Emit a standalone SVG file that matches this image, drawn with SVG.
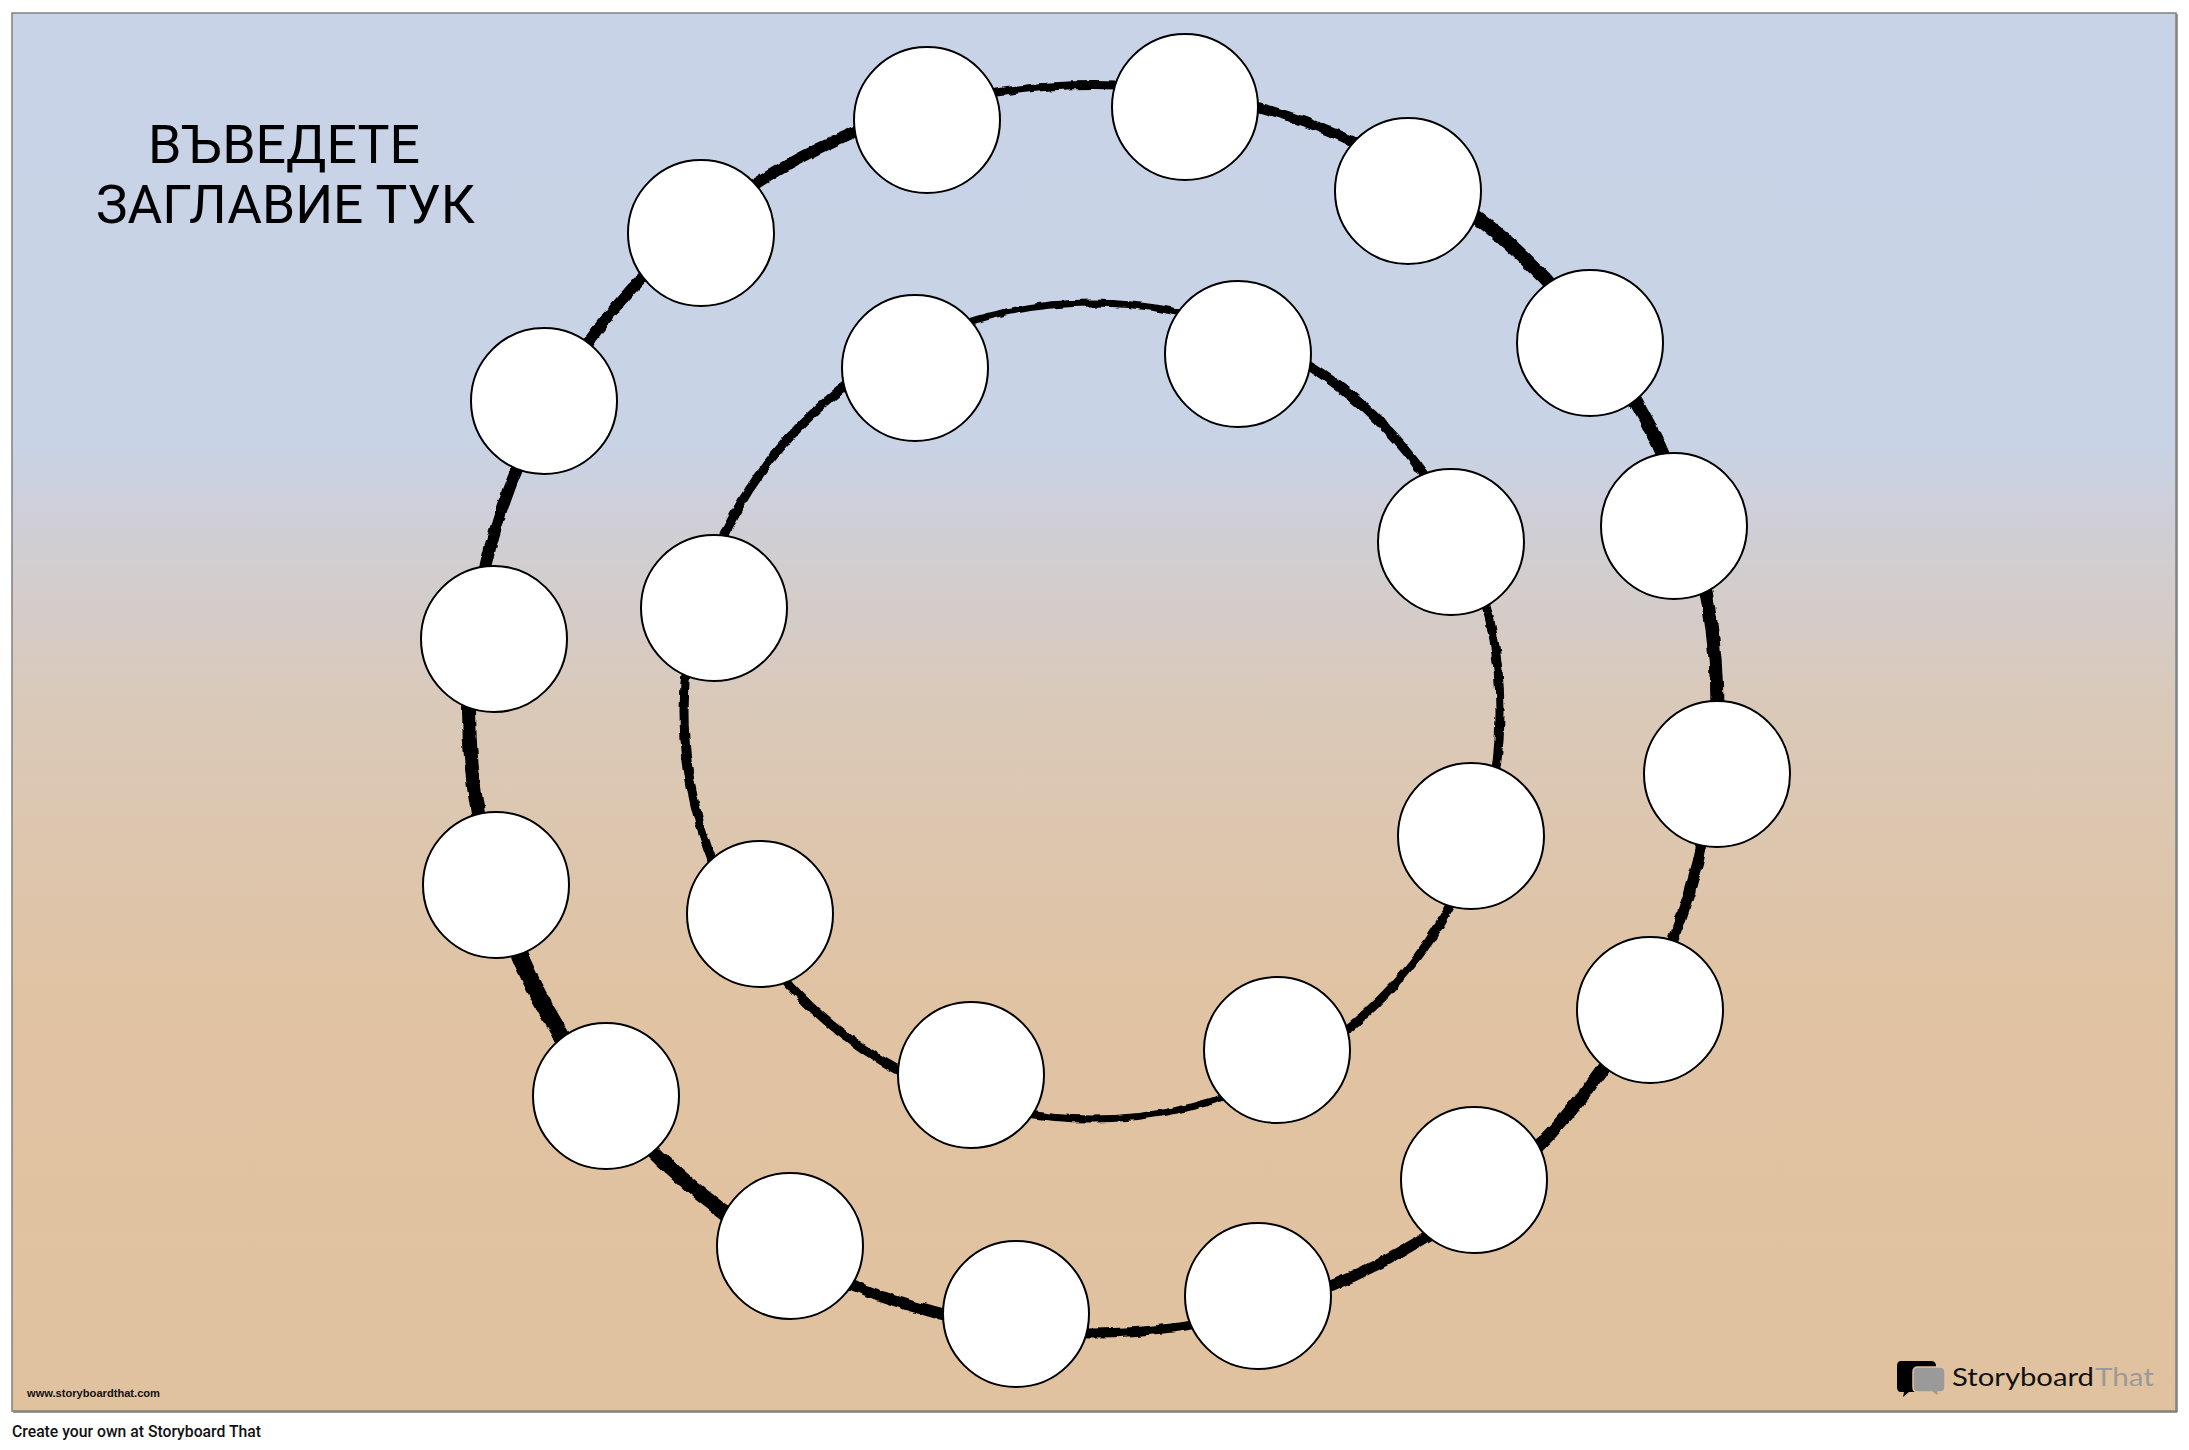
<svg xmlns="http://www.w3.org/2000/svg" width="2189" height="1450" viewBox="0 0 2189 1450">
  <defs>
    <linearGradient id="bg" gradientUnits="userSpaceOnUse" x1="0" y1="13" x2="0" y2="1411">
      <stop offset="0" stop-color="#C8D3E7"/>
      <stop offset="0.305" stop-color="#C8D3E6"/>
      <stop offset="0.36" stop-color="#CFCFD8"/>
      <stop offset="0.5" stop-color="#DAC9B8"/>
      <stop offset="0.7" stop-color="#E0C3A3"/>
      <stop offset="1" stop-color="#E1C29F"/>
    </linearGradient>
    <filter id="rough" x="-5%" y="-5%" width="110%" height="110%">
      <feTurbulence type="fractalNoise" baseFrequency="0.09" numOctaves="2" seed="4"/>
      <feDisplacementMap in="SourceGraphic" scale="5" xChannelSelector="R" yChannelSelector="G"/>
    </filter>
    <style>
      .ro { fill: none; stroke: #000; stroke-linecap: butt; }
      .node { fill: #fff; stroke: #000; stroke-width: 2; }
      .title { font-family: Roboto, "Liberation Sans", "Noto Sans CJK SC", sans-serif; font-size: 54px; fill: #000; }
    </style>
  </defs>

  <rect x="0" y="0" width="2189" height="1450" fill="#fff"/>
  <rect id="frame" x="12" y="13" width="2164" height="1398" fill="url(#bg)" stroke="#808080" stroke-width="1.5"/>
  <line x1="13" y1="1412" x2="2177" y2="1412" stroke="#7a7a7a" stroke-width="1.5"/>
  <line x1="2177" y1="14" x2="2177" y2="1412" stroke="#7a7a7a" stroke-width="1.5"/>

  <g id="title" class="title">
    <text x="148" y="163" textLength="272" lengthAdjust="spacingAndGlyphs">ВЪВЕДЕТЕ</text>
    <text x="96" y="223" textLength="379" lengthAdjust="spacingAndGlyphs">ЗАГЛАВИЕ ТУК</text>
  </g>

  <g id="connectors" filter="url(#rough)">
    <g id="outer-ring">
      <circle class="ro" cx="1093" cy="709" r="624" pathLength="360" stroke-width="8" stroke-dasharray="24.4 335.6" stroke-dashoffset="-254.4"/>
      <circle class="ro" cx="1093" cy="709" r="624" pathLength="360" stroke-width="10" stroke-dasharray="22.5 337.5" stroke-dashoffset="-278.8"/>
      <circle class="ro" cx="1093" cy="709" r="624" pathLength="360" stroke-width="14" stroke-dasharray="22.3 337.7" stroke-dashoffset="-301.3"/>
      <circle class="ro" cx="1093" cy="709" r="624" pathLength="360" stroke-width="14" stroke-dasharray="18.9 341.1" stroke-dashoffset="-323.6"/>
      <circle class="ro" cx="1093" cy="709" r="624" pathLength="360" stroke-width="13" stroke-dasharray="23.3 336.7" stroke-dashoffset="-342.5"/>
      <circle class="ro" cx="1093" cy="709" r="624" pathLength="360" stroke-width="11" stroke-dasharray="22.5 337.5" stroke-dashoffset="-5.8"/>
      <circle class="ro" cx="1093" cy="709" r="624" pathLength="360" stroke-width="13" stroke-dasharray="22.6 337.4" stroke-dashoffset="-28.3"/>
      <circle class="ro" cx="1093" cy="709" r="624" pathLength="360" stroke-width="11" stroke-dasharray="23.3 336.7" stroke-dashoffset="-50.9"/>
      <circle class="ro" cx="1093" cy="709" r="624" pathLength="360" stroke-width="9" stroke-dasharray="23.0 337.0" stroke-dashoffset="-74.2"/>
      <circle class="ro" cx="1093" cy="709" r="624" pathLength="360" stroke-width="11" stroke-dasharray="22.2 337.8" stroke-dashoffset="-97.2"/>
      <circle class="ro" cx="1093" cy="709" r="624" pathLength="360" stroke-width="15" stroke-dasharray="22.1 337.9" stroke-dashoffset="-119.4"/>
      <circle class="ro" cx="1093" cy="709" r="624" pathLength="360" stroke-width="17" stroke-dasharray="22.1 337.9" stroke-dashoffset="-141.5"/>
      <circle class="ro" cx="1093" cy="709" r="624" pathLength="360" stroke-width="14" stroke-dasharray="23.2 336.8" stroke-dashoffset="-163.6"/>
      <circle class="ro" cx="1093" cy="709" r="624" pathLength="360" stroke-width="12" stroke-dasharray="22.6 337.4" stroke-dashoffset="-186.8"/>
      <circle class="ro" cx="1093" cy="709" r="624" pathLength="360" stroke-width="11" stroke-dasharray="21.3 338.7" stroke-dashoffset="-209.4"/>
      <circle class="ro" cx="1093" cy="709" r="624" pathLength="360" stroke-width="11" stroke-dasharray="23.7 336.3" stroke-dashoffset="-230.7"/>
    </g>
    <g id="inner-ring">
      <circle class="ro" cx="1092" cy="711" r="408" pathLength="360" stroke-width="7" stroke-dasharray="49.5 310.5" stroke-dashoffset="-242.7"/>
      <circle class="ro" cx="1092" cy="711" r="408" pathLength="360" stroke-width="10" stroke-dasharray="42.6 317.4" stroke-dashoffset="-292.2"/>
      <circle class="ro" cx="1092" cy="711" r="408" pathLength="360" stroke-width="9" stroke-dasharray="43.5 316.5" stroke-dashoffset="-334.8"/>
      <circle class="ro" cx="1092" cy="711" r="408" pathLength="360" stroke-width="9" stroke-dasharray="43.1 316.9" stroke-dashoffset="-18.3"/>
      <circle class="ro" cx="1092" cy="711" r="408" pathLength="360" stroke-width="7" stroke-dasharray="47.0 313.0" stroke-dashoffset="-61.4"/>
      <circle class="ro" cx="1092" cy="711" r="408" pathLength="360" stroke-width="9" stroke-dasharray="40.2 319.8" stroke-dashoffset="-108.4"/>
      <circle class="ro" cx="1092" cy="711" r="408" pathLength="360" stroke-width="9" stroke-dasharray="46.6 313.4" stroke-dashoffset="-148.6"/>
      <circle class="ro" cx="1092" cy="711" r="408" pathLength="360" stroke-width="9" stroke-dasharray="47.5 312.5" stroke-dashoffset="-195.2"/>
    </g>
  </g>

  <g id="outer-nodes">
    <g id="o1"><circle class="node" cx="927" cy="120" r="73"/></g>
    <g id="o2"><circle class="node" cx="1185" cy="107" r="73"/></g>
    <g id="o3"><circle class="node" cx="1408" cy="191" r="73"/></g>
    <g id="o4"><circle class="node" cx="1590" cy="343" r="73"/></g>
    <g id="o5"><circle class="node" cx="1674" cy="526" r="73"/></g>
    <g id="o6"><circle class="node" cx="1717" cy="774" r="73"/></g>
    <g id="o7"><circle class="node" cx="1650" cy="1010" r="73"/></g>
    <g id="o8"><circle class="node" cx="1474" cy="1180" r="73"/></g>
    <g id="o9"><circle class="node" cx="1258" cy="1296" r="73"/></g>
    <g id="o10"><circle class="node" cx="1016" cy="1314" r="73"/></g>
    <g id="o11"><circle class="node" cx="790" cy="1246" r="73"/></g>
    <g id="o12"><circle class="node" cx="606" cy="1096" r="73"/></g>
    <g id="o13"><circle class="node" cx="496" cy="885" r="73"/></g>
    <g id="o14"><circle class="node" cx="494" cy="639" r="73"/></g>
    <g id="o15"><circle class="node" cx="544" cy="401" r="73"/></g>
    <g id="o16"><circle class="node" cx="701" cy="233" r="73"/></g>
  </g>

  <g id="inner-nodes">
    <g id="i1"><circle class="node" cx="915" cy="368" r="73"/></g>
    <g id="i2"><circle class="node" cx="1238" cy="354" r="73"/></g>
    <g id="i3"><circle class="node" cx="1451" cy="542" r="73"/></g>
    <g id="i4"><circle class="node" cx="1471" cy="836" r="73"/></g>
    <g id="i5"><circle class="node" cx="1277" cy="1050" r="73"/></g>
    <g id="i6"><circle class="node" cx="971" cy="1075" r="73"/></g>
    <g id="i7"><circle class="node" cx="760" cy="914" r="73"/></g>
    <g id="i8"><circle class="node" cx="714" cy="608" r="73"/></g>
  </g>

  <g id="logo">
    <path d="M1901 1361 H1931 Q1936 1361 1936 1366 V1387 Q1936 1392 1931 1392 H1909 L1903 1397 L1904 1392 H1901 Q1897 1392 1897 1387 V1366 Q1897 1361 1901 1361 Z" fill="#000"/>
    <path d="M1918 1367 H1940 Q1945 1367 1945 1372 V1387 Q1945 1392 1940 1392 H1938 L1939 1397 L1932 1392 H1918 Q1913 1392 1913 1387 V1372 Q1913 1367 1918 1367 Z" fill="#9A9A9A" stroke="#E1C29F" stroke-width="1.5"/>
    <text x="1952" y="1386" font-family="Lato, 'Noto Sans', sans-serif" font-size="25" fill="#111" textLength="142" lengthAdjust="spacingAndGlyphs">Storyboard</text>
    <text x="2095" y="1386" font-family="Lato, 'Noto Sans', sans-serif" font-size="25" fill="#9A9A9A" textLength="59" lengthAdjust="spacingAndGlyphs">That</text>
  </g>

  <text id="url" x="27" y="1397" font-family="'Liberation Sans', Arial, sans-serif" font-weight="bold" font-size="11" fill="#111" textLength="133" lengthAdjust="spacingAndGlyphs">www.storyboardthat.com</text>
  <text id="footer" x="12" y="1437" font-family="Roboto, 'Liberation Sans', sans-serif" font-weight="500" font-size="16" fill="#111" textLength="249" lengthAdjust="spacingAndGlyphs">Create your own at Storyboard That</text>
</svg>
